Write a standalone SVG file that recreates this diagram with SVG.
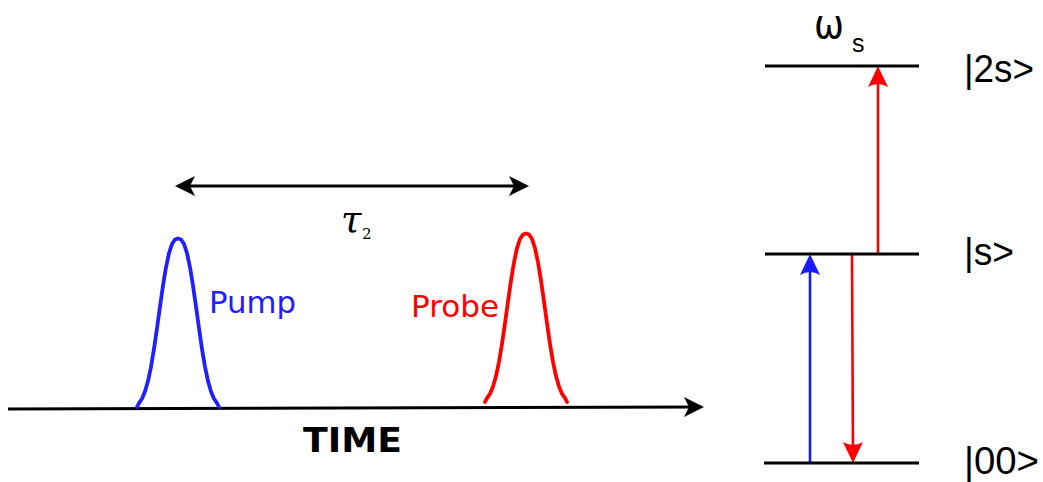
<svg xmlns="http://www.w3.org/2000/svg" width="1043" height="482" viewBox="0 0 1043 482">
<style>
.pulse{fill:none;stroke-width:3.8;stroke-linejoin:round;stroke-linecap:round}
.lvl{stroke:#000;stroke-width:3}
.arr{stroke-width:2.6;fill:none}
.lab{font-family:"DejaVu Sans",Verdana,sans-serif;font-size:30px}
.ket{font-family:"Liberation Sans",Arial,sans-serif;font-size:38px;fill:#000}
</style>
<defs>
<marker id="hk" markerUnits="userSpaceOnUse" viewBox="-22 -12 30 24" refX="0" refY="0" markerWidth="30" markerHeight="24" orient="auto-start-reverse">
<path d="M5,0 L-15,-10 L-10,0 L-15,10 Z" fill="#000"/>
</marker>
<marker id="hb" markerUnits="userSpaceOnUse" viewBox="-22 -12 30 24" refX="0" refY="0" markerWidth="30" markerHeight="24" orient="auto">
<path d="M4,0 L-17,-10 Q-11,0 -17,10 Z" fill="#1a1aff"/>
</marker>
<marker id="hr" markerUnits="userSpaceOnUse" viewBox="-22 -12 30 24" refX="0" refY="0" markerWidth="30" markerHeight="24" orient="auto">
<path d="M4,0 L-17,-10 Q-11,0 -17,10 Z" fill="#ff0000"/>
</marker>
<polyline id="gauss" points="-41,-1 -39,-4.9 -36,-9.3 -33,-16.4 -30,-26.9 -27,-41.2 -24,-59.1 -21,-79.7 -18,-101.4 -15,-122.4 -12,-140.7 -9,-154.8 -6,-164 -3,-168.5 0,-169.5 3,-168.5 6,-164 9,-154.8 12,-140.7 15,-122.4 18,-101.4 21,-79.7 24,-59.1 27,-41.2 30,-26.9 33,-16.4 36,-9.3 39,-4.9 41,-1"/>
</defs>
<rect width="1043" height="482" fill="#fff"/>

<g id="connectors">
<line id="time-axis" x1="8" y1="409" x2="699" y2="407" stroke="#000" stroke-width="3" marker-end="url(#hk)"/>
<line id="delay" x1="180" y1="186" x2="524" y2="186" stroke="#000" stroke-width="3" marker-start="url(#hk)" marker-end="url(#hk)"/>
<line id="pump-up" class="arr" x1="810" y1="463" x2="810" y2="258" stroke="#1a1aff" marker-end="url(#hb)"/>
<line id="probe-down" class="arr" x1="852" y1="254" x2="853" y2="459" stroke="#ff0000" marker-end="url(#hr)"/>
<line id="probe-up" class="arr" x1="878" y1="254" x2="878" y2="70" stroke="#ff0000" marker-end="url(#hr)"/>
</g>

<g id="pump">
<use href="#gauss" class="pulse" stroke="#2020ff" transform="translate(178,408)"/>
<text class="lab" x="209" y="313" fill="#2020ff" textLength="87" lengthAdjust="spacingAndGlyphs">Pump</text>
</g>
<g id="probe">
<use href="#gauss" class="pulse" stroke="#ff0000" transform="translate(526,403)"/>
<text class="lab" x="411" y="317" fill="#ff0000" textLength="88" lengthAdjust="spacingAndGlyphs">Probe</text>
</g>

<g id="tau">
<text x="341" y="232" font-family="'DejaVu Serif',serif" font-style="italic" font-size="37" fill="#000">τ</text>
<text x="362" y="239" font-family="'DejaVu Serif',serif" font-size="15" fill="#000">2</text>
</g>

<g id="time-label">
<text x="303" y="452" font-family="'DejaVu Sans',Verdana,sans-serif" font-weight="bold" font-size="34" textLength="99" lengthAdjust="spacingAndGlyphs" fill="#000">TIME</text>
</g>

<g id="omega">
<text x="814" y="38" font-family="'DejaVu Sans',sans-serif" font-size="40" fill="#000" textLength="30" lengthAdjust="spacingAndGlyphs">ω</text>
<text x="852" y="52" font-family="'Liberation Sans',Arial,sans-serif" font-size="25" fill="#000">s</text>
</g>

<g id="level-2s">
<line class="lvl" x1="765" y1="66" x2="919" y2="66"/>
<text class="ket" x="964" y="82" textLength="70" lengthAdjust="spacingAndGlyphs">|2s&gt;</text>
</g>
<g id="level-s">
<line class="lvl" x1="765" y1="254" x2="919" y2="254"/>
<text class="ket" x="964" y="265" textLength="50" lengthAdjust="spacingAndGlyphs">|s&gt;</text>
</g>
<g id="level-00">
<line class="lvl" x1="764" y1="463" x2="919" y2="463"/>
<text class="ket" x="964" y="474" textLength="75" lengthAdjust="spacingAndGlyphs">|00&gt;</text>
</g>
</svg>
